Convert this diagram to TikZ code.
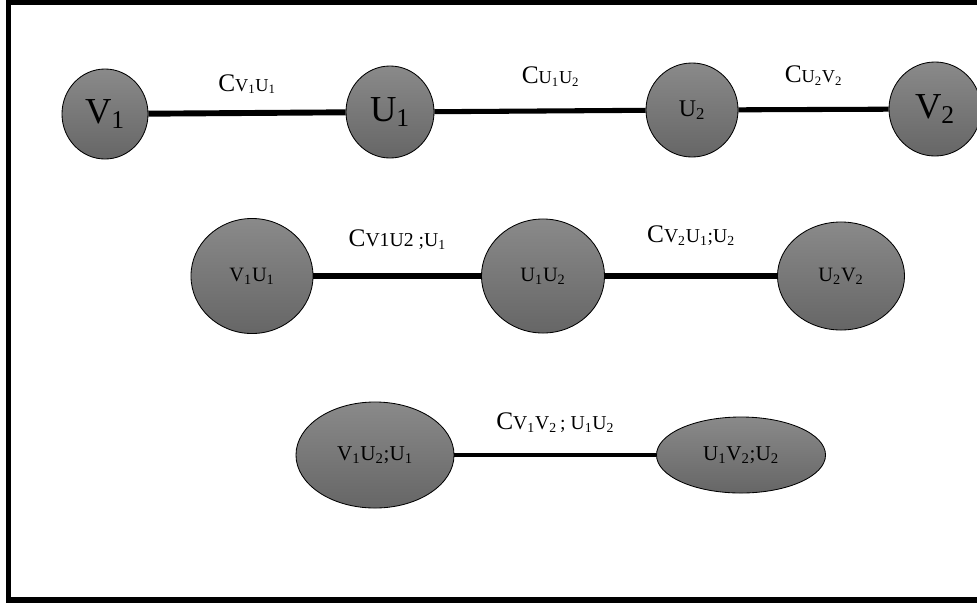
\documentclass[tikz,border=0pt]{standalone}
\usepackage{fontspec}
\setmainfont{Liberation Serif}
\usetikzlibrary{shapes.geometric}

\newcommand{\ix}[1]{\textsubscript{#1}}
\newcommand{\cw}[2]{{\fontsize{18}{20}\selectfont C}{\fontsize{#1}{#1}\selectfont #2}}

\begin{document}
\begin{tikzpicture}[x=0.025cm, y=-0.025cm,
    vtx/.style={ellipse, draw=black, line width=0.6pt, top color=black!46, bottom color=black!60, inner sep=0pt},
    link/.style={line width=3.6pt},
    lbl/.style={midway, inner sep=0pt}]
    \useasboundingbox[fill=white] (0,0) rectangle (977,606);
    \draw[line width=3.6pt] (977,2.5) -| (8.5,600) -- (977,600);

    % first row
    \node[vtx, minimum width=2.15cm, minimum height=2.25cm, font=\fontsize{26}{28}\selectfont] (v1) at (105,114) {V\ix{1}};
    \node[vtx, minimum width=2.2cm, minimum height=2.3cm, font=\fontsize{26}{28}\selectfont] (u1) at (390,112) {U\ix{1}};
    \node[vtx, minimum width=2.3cm, minimum height=2.35cm, font=\fontsize{17}{19}\selectfont] (u2) at (692,110) {U\ix{2}};
    \node[vtx, minimum width=2.3cm, minimum height=2.35cm, font=\fontsize{26}{28}\selectfont] (v2) at (935,109) {V\ix{2}};

    \draw (v1) edge[link, line width=4.2pt] node[lbl, yshift=0.72cm]{\cw{13}{V\ix{1}U\ix{1}}} (u1)
          (u1) edge[link] node[lbl, pos=0.55, yshift=0.85cm]{\cw{13}{U\ix{1}U\ix{2}}} (u2)
          (u2) edge[link] node[lbl, yshift=0.85cm]{\cw{13}{U\ix{2}V\ix{2}}} (v2);

    % second row
    \node[vtx, minimum width=3.05cm, minimum height=2.875cm, font=\fontsize{14.5}{16}\selectfont] (v1u1) at (252,276) {V\ix{1}U\ix{1}};
    \node[vtx, minimum width=3.075cm, minimum height=2.85cm, font=\fontsize{14.5}{16}\selectfont] (u1u2) at (543,276) {U\ix{1}U\ix{2}};
    \node[vtx, minimum width=3.175cm, minimum height=2.7cm, font=\fontsize{14.5}{16}\selectfont] (u2v2) at (841,276) {U\ix{2}V\ix{2}};

    \draw (v1u1) edge[link] node[lbl, yshift=0.92cm]{\cw{14}{V1U2 ;U\ix{1}}} (u1u2)
          (u1u2) edge[link] node[lbl, yshift=1.0cm]{\cw{14}{V\ix{2}U\ix{1};U\ix{2}}} (u2v2);

    % third row
    \node[vtx, minimum width=3.95cm, minimum height=2.65cm, font=\fontsize{15}{17}\selectfont] (v1u2u1) at (375,455) {V\ix{1}U\ix{2};U\ix{1}};
    \node[vtx, minimum width=4.225cm, minimum height=1.9cm, font=\fontsize{15}{17}\selectfont] (u1v2u2) at (741,455) {U\ix{1}V\ix{2};U\ix{2}};

    \draw (v1u2u1) edge[link, line width=3pt] node[lbl, yshift=0.82cm]{\cw{14}{V\ix{1}V\ix{2}\,; U\ix{1}U\ix{2}}} (u1v2u2);
\end{tikzpicture}
\end{document}
